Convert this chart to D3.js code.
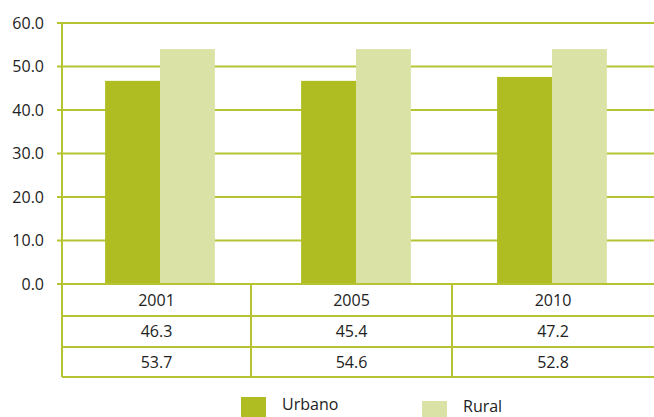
<!DOCTYPE html>
<html>
<head>
<meta charset="utf-8">
<script src="https://cdn.jsdelivr.net/npm/d3@7"></script>
<style>
  html, body { margin: 0; padding: 0; background: #fff; }
  svg { display: block; font-family: "Open Sans", "Noto Sans", sans-serif; }
</style>
</head>
<body>
<div id="chart"></div>
<script>
// Data
const years = ["2001", "2005", "2010"];
const series = ["Urbano", "Rural"];
// bar heights as drawn in the chart
const urbanoBars = [46.7, 46.7, 47.6];
const ruralBars = [54.0, 54.0, 54.0];
// values printed in the table below the chart
const urbanoLabels = ["46.3", "45.4", "47.2"];
const ruralLabels = ["53.7", "54.6", "52.8"];
const yTicks = [0, 10, 20, 30, 40, 50, 60];

const colors = { Urbano: "#afbc22", Rural: "#dbe2a5" };
const gridColor = "#b6c434";

const W = 654, H = 417;
const plot = { left: 62, right: 654, top: 23, bottom: 284 };

const svg = d3.select("#chart").append("svg")
  .attr("width", W)
  .attr("height", H);

// scales
const x = d3.scaleBand()
  .domain(years)
  .range([plot.left, plot.right - 4])
  .paddingInner(0.44)
  .paddingOuter(0.22);

const xs = d3.scaleBand()
  .domain(series)
  .range([0, x.bandwidth()]);

const y = d3.scaleLinear()
  .domain([0, 60])
  .range([plot.bottom, plot.top]);

// gridlines + ticks
svg.append("g")
  .selectAll("line")
  .data(yTicks)
  .join("line")
  .attr("x1", plot.left - 5)
  .attr("x2", plot.right)
  .attr("y1", d => y(d))
  .attr("y2", d => y(d))
  .attr("stroke", gridColor)
  .attr("stroke-width", 2);

// y tick labels
svg.append("g")
  .selectAll("text")
  .data(yTicks)
  .join("text")
  .attr("x", 44)
  .attr("y", d => y(d))
  .attr("dy", "0.35em")
  .attr("text-anchor", "end")
  .style("font-size", "16px")
  .style("fill", "#222")
  .text(d => d.toFixed(1));

// bars
const rows = years.map((yr, i) => ({ year: yr, Urbano: urbanoBars[i], Rural: ruralBars[i] }));

svg.append("g")
  .selectAll("g")
  .data(rows)
  .join("g")
  .attr("transform", d => `translate(${x(d.year)},0)`)
  .selectAll("rect")
  .data(d => series.map(s => ({ key: s, value: d[s] })))
  .join("rect")
  .attr("x", d => xs(d.key))
  .attr("y", d => y(d.value))
  .attr("width", xs.bandwidth())
  .attr("height", d => y(0) - y(d.value))
  .attr("fill", d => colors[d.key]);

// redraw baseline on top of bars
svg.append("line")
  .attr("x1", plot.left - 5).attr("x2", plot.right)
  .attr("y1", y(0)).attr("y2", y(0))
  .attr("stroke", gridColor).attr("stroke-width", 2);

// y axis vertical line (runs down through the table)
const tableRows = [316, 347, 377];
svg.append("line")
  .attr("x1", plot.left).attr("x2", plot.left)
  .attr("y1", plot.top).attr("y2", tableRows[2])
  .attr("stroke", gridColor).attr("stroke-width", 2);

// table
const tbl = svg.append("g");
tableRows.forEach(ry => {
  tbl.append("line")
    .attr("x1", plot.left).attr("x2", plot.right)
    .attr("y1", ry).attr("y2", ry)
    .attr("stroke", gridColor).attr("stroke-width", 2);
});

// column dividers between categories
const dividers = [251, 452];
dividers.forEach(dx => {
  tbl.append("line")
    .attr("x1", dx).attr("x2", dx)
    .attr("y1", y(0)).attr("y2", tableRows[2])
    .attr("stroke", gridColor).attr("stroke-width", 2);
});

const colCenter = i => {
  const edges = [plot.left, ...dividers, plot.right];
  return (edges[i] + edges[i + 1]) / 2;
};

const tableText = [years, urbanoLabels, ruralLabels];
const rowTops = [y(0), tableRows[0], tableRows[1]];
tableText.forEach((vals, r) => {
  tbl.selectAll(null)
    .data(vals)
    .join("text")
    .attr("x", (d, i) => colCenter(i))
    .attr("y", (rowTops[r] + tableRows[r]) / 2)
    .attr("dy", "0.36em")
    .attr("text-anchor", "middle")
    .style("font-size", "16px")
    .style("fill", "#222")
    .text(d => d);
});

// legend
const legend = [
  { key: "Urbano", x: 241, y: 397, base: 410 },
  { key: "Rural", x: 422, y: 401, base: 412 }
];
const lg = svg.append("g");
legend.forEach(l => {
  lg.append("rect")
    .attr("x", l.x).attr("y", l.y)
    .attr("width", 25).attr("height", 22)
    .attr("fill", colors[l.key]);
  lg.append("text")
    .attr("x", l.x + 41)
    .attr("y", l.base)
    .style("font-size", "16px")
    .style("fill", "#222")
    .text(l.key);
});
</script>
</body>
</html>
